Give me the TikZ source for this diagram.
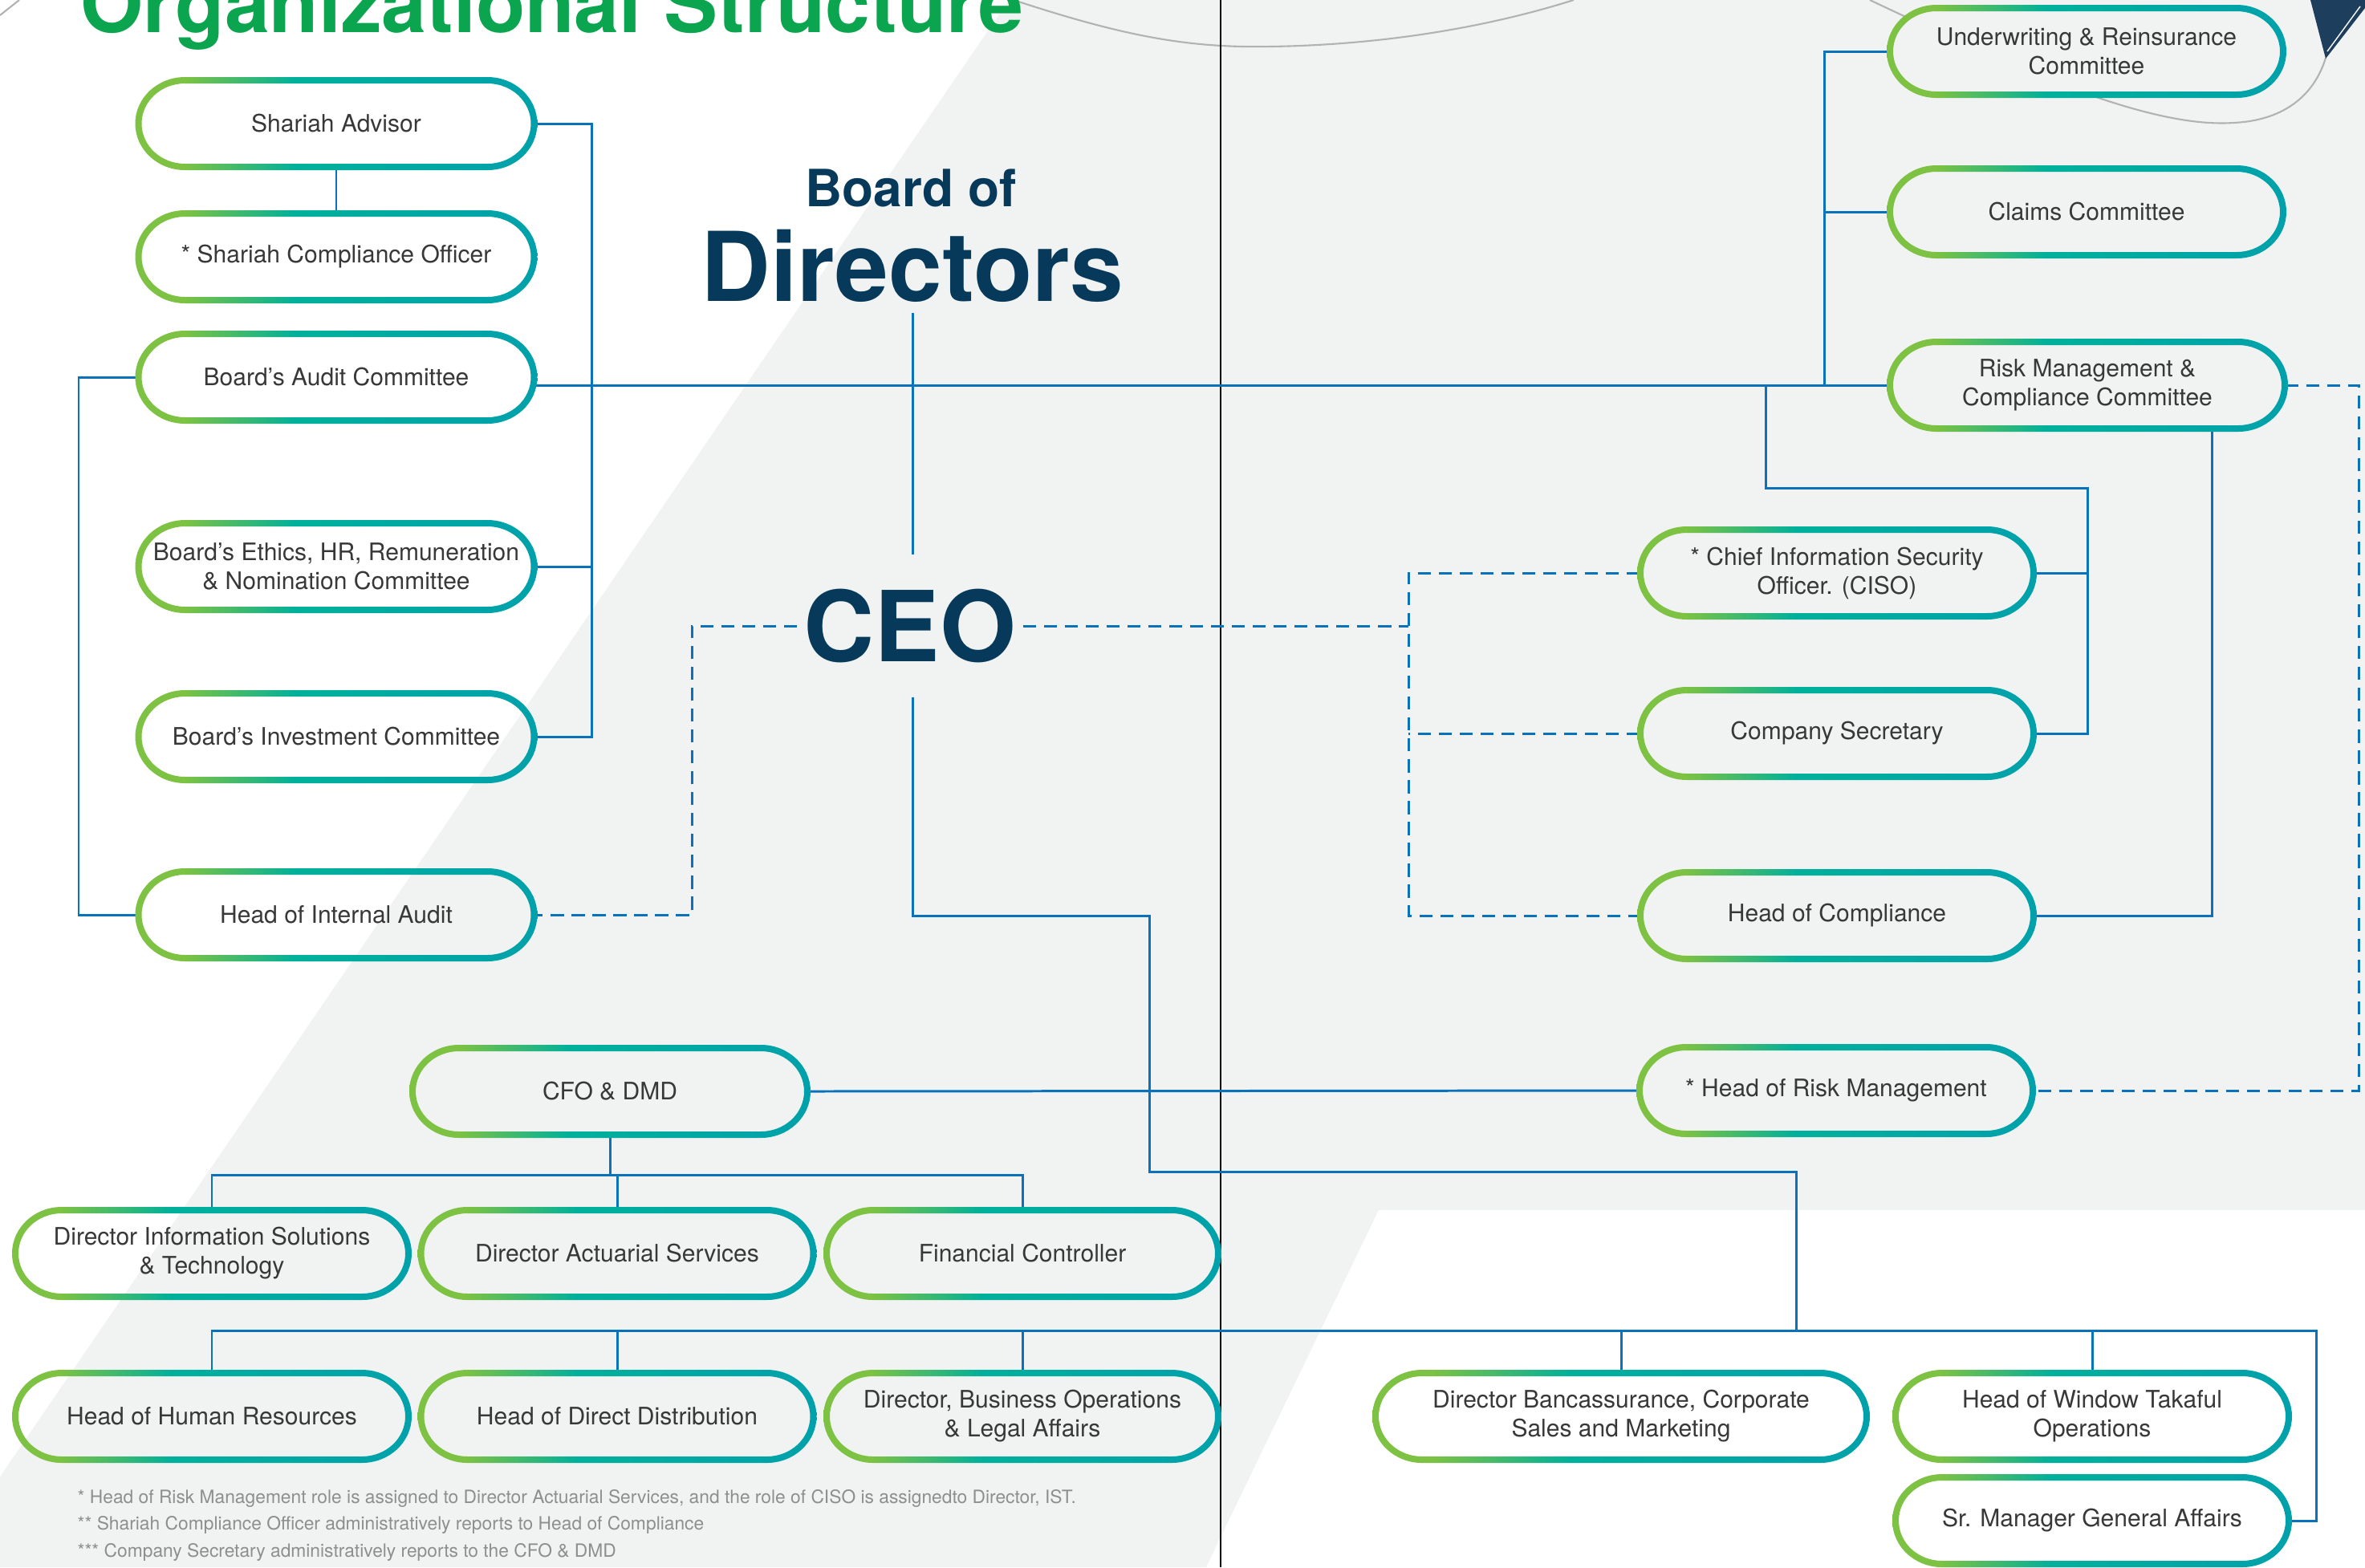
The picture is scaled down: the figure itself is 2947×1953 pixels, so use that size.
\documentclass[tikz,border=0pt]{standalone}
\usepackage{fontspec}
\setmainfont{TeX Gyre Heros}
\definecolor{bggrey}{HTML}{F1F3F2}
\definecolor{lblue}{HTML}{0A72BA}
\definecolor{navy}{HTML}{073A5A}
\definecolor{tgreen}{HTML}{0AA54E}
\definecolor{pg}{HTML}{7DC242}
\definecolor{pt}{HTML}{00B09B}
\definecolor{pttwo}{HTML}{00A1AB}
\definecolor{txt}{HTML}{383838}
\definecolor{fgrey}{HTML}{8E8E8E}
\definecolor{curveg}{HTML}{B2B2B2}
\definecolor{darknavy}{HTML}{1E3E5E}
\pgfdeclarehorizontalshading{pillgrad}{100bp}{color(0bp)=(pg); color(25bp)=(pg); color(31bp)=(pg); color(45bp)=(pt); color(75bp)=(pttwo); color(100bp)=(pttwo)}
\pgfdeclarelayer{back}
\pgfdeclarelayer{lines}
\pgfsetlayers{back,lines,main}
\newcommand\boxfont{\fontsize{8.54}{10.24}\selectfont}
\newcommand\titlefont{\fontsize{28.6}{30}\selectfont\bfseries}
\newcommand\footfont{\fontsize{6.48}{7.5}\selectfont}
% pill outline path: cx, cy, half width, half height, end radius (x)
\newcommand\pillp[5]{({#1-(#3)+(#5)},{#2-(#4)}) -- ({#1+(#3)-(#5)},{#2-(#4)}) .. controls ({#1+(#3)-0.4477*(#5)},{#2-(#4)}) and ({#1+(#3)},{#2-0.5523*(#4)}) .. ({#1+(#3)},{#2}) .. controls ({#1+(#3)},{#2+0.5523*(#4)}) and ({#1+(#3)-0.4477*(#5)},{#2+(#4)}) .. ({#1+(#3)-(#5)},{#2+(#4)}) -- ({#1-(#3)+(#5)},{#2+(#4)}) .. controls ({#1-(#3)+0.4477*(#5)},{#2+(#4)}) and ({#1-(#3)},{#2+0.5523*(#4)}) .. ({#1-(#3)},{#2}) .. controls ({#1-(#3)},{#2-0.5523*(#4)}) and ({#1-(#3)+0.4477*(#5)},{#2-(#4)}) .. ({#1-(#3)+(#5)},{#2-(#4)}) -- cycle}
\newcommand\pill[6][none]{%
  \pgfmathsetmacro\pw{(#5-8)/100}%
  \path[fill=#1] \pillp{#3}{#4}{#5/2-4}{54}{58};%
  \shade[shading=pillgrad, even odd rule] \pillp{#3}{#4}{#5/2}{58}{62} \pillp{#3}{#4}{#5/2-8}{50}{54};%
  \node[pillnode, minimum width=\pw cm] (#2) at (#3,#4) {#6};%
}
\tikzset{
  pillnode/.style={draw=none, inner sep=0pt, minimum height=1.08cm, align=center, font=\boxfont, text=txt},
  conn/.style={draw=lblue, line width=0.85pt},
  dconn/.style={conn, dash pattern=on 4.6pt off 2.8pt},
  bigtext/.style={text=navy, font=\bfseries},
}
\begin{document}
\begin{tikzpicture}[x=0.01cm, y=-0.01cm]
\useasboundingbox (0,0) rectangle (2947,1953);
% ---------- background ----------
\begin{pgfonlayer}{back}
\fill[bggrey] (0,0) rectangle (2947,1953);
\fill[white] (0,0) -- (1257,0) -- (0,1840) -- cycle;
\fill[white] (1718,1508) -- (2947,1508) -- (2947,1953) -- (1503,1953) -- cycle;
\draw[curveg, line width=0.6pt] (1263,0) .. controls (1400,45) and (1480,60) .. (1583,58) .. controls (1720,56) and (1850,35) .. (1961,0);
\draw[curveg, line width=0.6pt] (2330,0) .. controls (2520,90) and (2680,160) .. (2783,153) .. controls (2850,150) and (2885,115) .. (2898,72);
\draw[curveg, line width=0.6pt] (0,19) -- (24,0);
\fill[darknavy] (2879,0) -- (2947,0) -- (2947,10) -- (2898,73) -- cycle;
\draw[white, line width=0.4pt] (2900,64) -- (2941,8);
\draw[black, line width=0.55pt] (1521,0) -- (1521,1953);
\end{pgfonlayer}
% ---------- titles ----------
\node[anchor=base west, inner sep=0pt, font=\titlefont, text=tgreen] (title) at (100,40) {Organizational Structure};
\node[bigtext, anchor=base, inner sep=0pt, font=\fontsize{18.2}{20}\selectfont\bfseries] (bof) at (1135,257) {Board of};
\node[bigtext, anchor=base, inner xsep=0pt, inner ysep=0.13cm, font=\fontsize{34.1}{36}\selectfont\bfseries] (bod) at (1137,375) {Directors};
\node[bigtext, anchor=center, inner xsep=0.08cm, inner ysep=0.42cm, font=\fontsize{34.7}{36}\selectfont\bfseries] (ceo) at (1134,780) {CEO};
% ---------- boxes ----------
\pill{sa}{419}{154}{501}{Shariah Advisor}
\pill{sco}{419}{320}{501}{* Shariah Compliance Officer}
\pill{bac}{419}{470}{501}{Board’s Audit Committee}
\pill{beth}{419}{706}{501}{Board's Ethics, HR, Remuneration\\\& Nomination Committee}
\pill{binv}{419}{918}{501}{Board’s Investment Committee}
\pill{hia}{419}{1140}{501}{Head of Internal Audit}
\pill{cfo}{760}{1360}{500}{CFO \& DMD}
\pill{dis}{264}{1562}{498}{Director Information Solutions\\\& Technology}
\pill{das}{769}{1562}{497}{Director Actuarial Services}
\pill{fc}{1274}{1562}{496}{Financial Controller}
\pill{hhr}{264}{1765}{498}{Head of Human Resources}
\pill{hdd}{769}{1765}{497}{Head of Direct Distribution}
\pill{dbo}{1274}{1765}{496}{Director, Business Operations\\\& Legal Affairs}
\pill{dban}{2020}{1765}{620}{Director Bancassurance, Corporate\\Sales and Marketing}
\pill{hwt}{2607}{1765}{498}{Head of Window Takaful\\Operations}
\pill{smga}{2607}{1895}{498}{Sr. Manager General Affairs}
\pill[bggrey]{urc}{2600}{64}{498}{Underwriting \& Reinsurance\\Committee}
\pill{cc}{2600}{264}{498}{Claims Committee}
\pill{rmcc}{2601}{480}{500}{Risk Management \&\\Compliance Committee}
\pill{ciso}{2289}{714}{498}{* Chief Information Security\\Officer. (CISO)}
\pill{cs}{2289}{914}{498}{Company Secretary}
\pill{hoc}{2289}{1141}{498}{Head of Compliance}
\pill{hrm}{2288}{1359}{498}{* Head of Risk Management}
% ---------- footnotes ----------
\node[anchor=base west, inner sep=0pt, font=\footfont, text=fgrey] (fn1) at (96,1873) {* Head of Risk Management role is assigned to Director Actuarial Services, and the role of CISO is assignedto Director, IST.};
\node[anchor=base west, inner sep=0pt, font=\footfont, text=fgrey] (fn2) at (96,1906) {** Shariah Compliance Officer administratively reports to Head of Compliance};
\node[anchor=base west, inner sep=0pt, font=\footfont, text=fgrey] (fn3) at (96,1940) {*** Company Secretary administratively reports to the CFO \& DMD};
% ---------- connectors ----------
\coordinate (rbx) at (737,0);
\coordinate (lbx) at (98,0);
\coordinate (k1) at (1432,1141);
\coordinate (k2) at (2238,1460);
\coordinate (bl) at (2886,1658);
\coordinate (ub) at (2273,0);
\coordinate (m1) at (2200,608);
\coordinate (m2) at (2601,608);
\coordinate (m3) at (2756,0);
\coordinate (dx) at (2939,0);
\coordinate (dv) at (1755,0);
\coordinate (dlx) at (862,0);
\coordinate (cy) at (0,1464);
\begin{pgfonlayer}{lines}
\draw[conn] (sa.east) -- (sa.east -| rbx) -- (binv.east -| rbx) -- (binv.east);
\draw[conn] (beth.east) -- (beth.east -| rbx);
\draw[conn] (sa.south) -- (sco.north);
\draw[conn] (bac.west) -- (bac.west -| lbx) -- (hia.west -| lbx) -- (hia.west);
\draw[conn] (bac.east |- rmcc.west) -- (rmcc.west);
\draw[conn] (bod.south) -- (bod.south |- ceo.north);
\draw[conn] (ceo.south -| bod.south) |- (k1) |- (k2) -- (k2 |- bl);
\draw[conn] (hhr.north) -- (hhr.north |- bl) -- (bl) -- (bl |- smga.east) -- (smga.east);
\draw[conn] (hdd.north) -- (hdd.north |- bl);
\draw[conn] (dbo.north) -- (dbo.north |- bl);
\draw[conn] (dban.north) -- (dban.north |- bl);
\draw[conn] (hwt.north) -- (hwt.north |- bl);
\draw[conn] (urc.west) -- (urc.west -| ub) -- (ub |- rmcc.west);
\draw[conn] (cc.west) -- (cc.west -| ub);
\draw[conn] (m1 |- rmcc.west) -- (m1) -- (m2) -- (m2 |- cs.east) -- (cs.east);
\draw[conn] (ciso.east) -- (ciso.east -| m2);
\draw[conn] (m3 |- rmcc.south) -- (m3 |- hoc.east) -- (hoc.east);
\draw[dconn] (rmcc.east) -- (rmcc.east -| dx) -- (dx |- hrm.east) -- (hrm.east);
\draw[dconn] (ciso.west) -- (ciso.west -| dv) -- (hoc.west -| dv) -- (hoc.west);
\draw[dconn] (cs.west) -- (cs.west -| dv);
\draw[dconn] (ceo.east) -- (ceo.east -| dv);
\draw[dconn] (ceo.west) -- (ceo.west -| dlx) -- (hia.east -| dlx) -- (hia.east);
\draw[conn] (cfo.east) -- (hrm.west);
\draw[conn] (cfo.south) -- (cfo.south |- cy);
\draw[conn] (dis.north) -- (dis.north |- cy) -- (fc.north |- cy) -- (fc.north);
\draw[conn] (das.north) -- (das.north |- cy);
\end{pgfonlayer}
\end{tikzpicture}
\end{document}
